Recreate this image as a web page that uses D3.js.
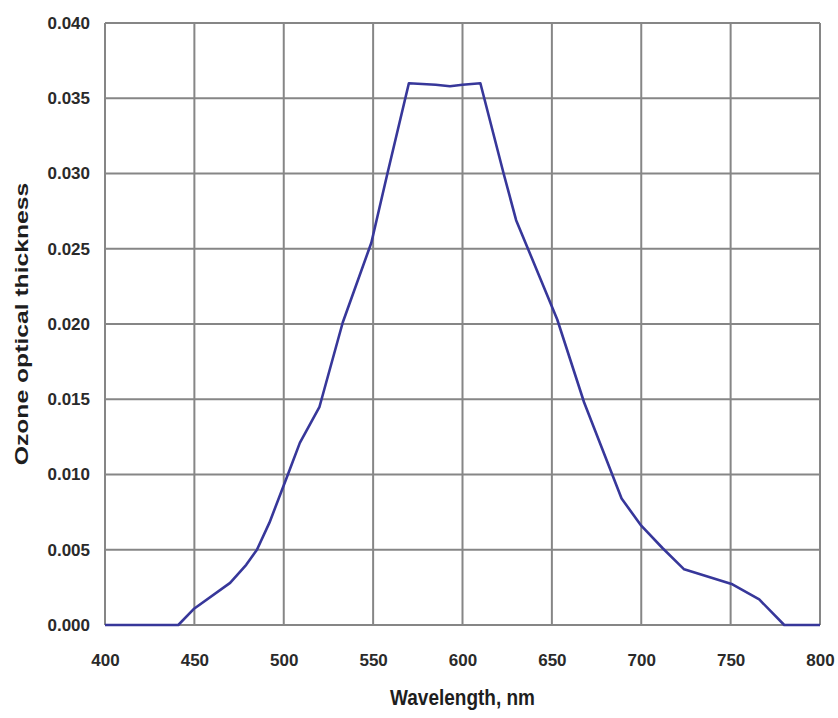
<!DOCTYPE html>
<html>
<head>
<meta charset="utf-8">
<script src="https://cdn.jsdelivr.net/npm/d3@7"></script>
<style>
  body { margin: 0; background: #fff; }
  svg { display: block; }
  .tick text { font-family: "Liberation Sans", Arial, sans-serif; }
</style>
</head>
<body>
<svg width="838" height="718"></svg>
<script>
// ozone optical thickness
var wavelength = [400, 441, 450, 470, 479, 485, 492, 502, 509, 520, 533, 549, 558, 570,
                  585, 593, 600, 610, 623, 630, 653, 668, 689, 700, 712, 724, 751, 766, 780, 800];
var thickness  = [0, 0, 0.0011, 0.0028, 0.0040, 0.0050, 0.0068, 0.0099, 0.0121, 0.0145, 0.0201, 0.0254, 0.0300, 0.0360,
                  0.0359, 0.0358, 0.0359, 0.0360, 0.0300, 0.0269, 0.0203, 0.0148, 0.0084, 0.0066, 0.0051, 0.0037, 0.0027, 0.0017, 0, 0];
var xTicks = [400, 450, 500, 550, 600, 650, 700, 750, 800];
var yTicks = [0, 0.005, 0.010, 0.015, 0.020, 0.025, 0.030, 0.035, 0.040];

var svg = d3.select("svg"),
    margin = {top: 23, right: 18, bottom: 93, left: 105},
    width = +svg.attr("width") - margin.left - margin.right,
    height = +svg.attr("height") - margin.top - margin.bottom;

var g = svg.append("g").attr("transform", "translate(" + margin.left + "," + margin.top + ")");

var x = d3.scaleLinear().domain([400, 800]).range([0, width]);
var y = d3.scaleLinear().domain([0, 0.04]).range([height, 0]);

// gridlines
g.append("g")
    .selectAll("line")
    .data(xTicks)
  .enter().append("line")
    .attr("x1", function(d) { return x(d); })
    .attr("x2", function(d) { return x(d); })
    .attr("y1", 0)
    .attr("y2", height)
    .style("stroke", "#868686")
    .style("stroke-width", 2);

g.append("g")
    .selectAll("line")
    .data(yTicks)
  .enter().append("line")
    .attr("x1", 0)
    .attr("x2", width)
    .attr("y1", function(d) { return y(d); })
    .attr("y2", function(d) { return y(d); })
    .style("stroke", "#868686")
    .style("stroke-width", 2);

// axes (labels only)
var xAxis = g.append("g")
    .attr("transform", "translate(0," + height + ")")
    .call(d3.axisBottom(x).tickValues(xTicks).tickSize(0).tickPadding(29).tickFormat(d3.format("d")));

var yAxis = g.append("g")
    .call(d3.axisLeft(y).tickValues(yTicks).tickSize(0).tickPadding(15).tickFormat(d3.format(".3f")));

[xAxis, yAxis].forEach(function(a) {
    a.select(".domain").remove();
    a.selectAll("text")
        .style("font-size", "17px")
        .style("font-weight", "bold")
        .style("fill", "#2a2a2a");
});

// the curve
var line = d3.line()
    .x(function(d) { return x(d[0]); })
    .y(function(d) { return y(d[1]); });

g.append("path")
    .datum(d3.zip(wavelength, thickness))
    .attr("d", line)
    .style("fill", "none")
    .style("stroke", "#37379a")
    .style("stroke-width", 2.6)
    .style("stroke-linejoin", "round");

// axis titles
svg.append("text")
    .attr("transform", "translate(" + (margin.left + width / 2) + ",705) scale(1,1.2)")
    .attr("text-anchor", "middle")
    .style("font-family", "Liberation Sans, Arial, sans-serif")
    .style("font-size", "19px")
    .style("font-weight", "bold")
    .style("fill", "#1e1e1e")
    .text("Wavelength, nm");

svg.append("text")
    .attr("transform", "translate(28," + (margin.top + height / 2) + ") rotate(-90) scale(1.3,1)")
    .attr("text-anchor", "middle")
    .style("font-family", "Liberation Sans, Arial, sans-serif")
    .style("font-size", "19px")
    .style("font-weight", "bold")
    .style("fill", "#1e1e1e")
    .text("Ozone optical thickness");
</script>
</body>
</html>
